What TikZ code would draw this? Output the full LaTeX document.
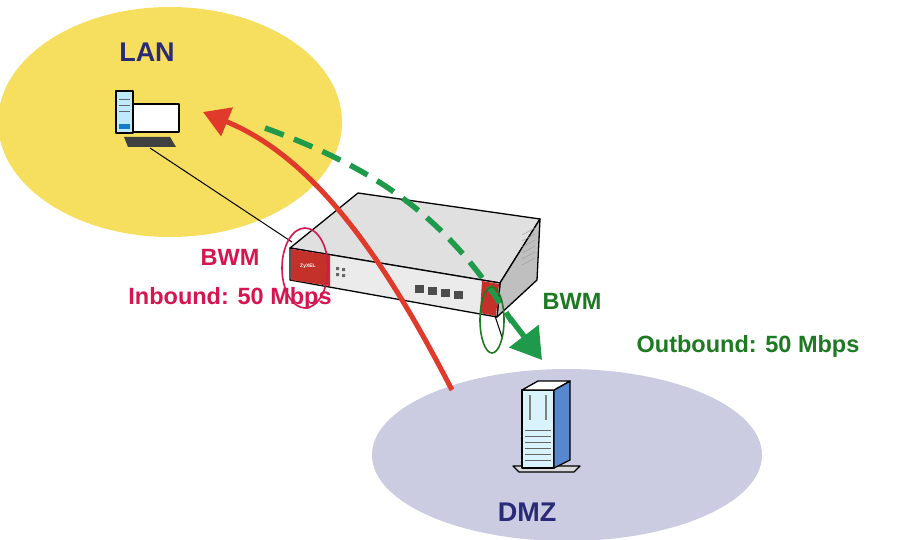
\documentclass[tikz,border=0pt]{standalone}
\usepackage{fontspec}
\setmainfont{Liberation Sans}
\usetikzlibrary{arrows.meta}
\definecolor{lanY}{HTML}{F6DE5E}
\definecolor{dmzB}{HTML}{CBCBE2}
\definecolor{navy}{HTML}{2A2A78}
\definecolor{bwmR}{HTML}{D6164E}
\definecolor{bwmG}{HTML}{1E7A22}
\definecolor{arcR}{HTML}{E03A2A}
\definecolor{dashG}{HTML}{1E9A4A}
\definecolor{rtrR}{HTML}{C4302A}
\begin{document}
\begin{tikzpicture}[x=1pt,y=-1pt,
  zone/.style={font=\bfseries\fontsize{27}{30}\selectfont,text=navy},
  lbl/.style={font=\bfseries\fontsize{23.5}{26}\selectfont},
  edge/.style={line width=1.3pt,line join=round}]
\useasboundingbox (0,0) rectangle (901,540);
\fill[white] (0,0) rectangle (901,540);
% zones
\fill[lanY] (170,122) ellipse [x radius=172,y radius=115];
\fill[dmzB] (567,455) ellipse [x radius=195,y radius=86];
\node[zone] (lan) at (147,52) {LAN};
\node[zone] (dmz) at (527,512) {DMZ};
% PC
\coordinate (pcport) at (150,148);
\coordinate (rtrin) at (292,242);
\draw[black,line width=1pt] (pcport) -- (rtrin);
\fill[black!75] (124,137) -- (170,137) -- (176,147) -- (128,147) -- cycle;
\draw[edge,fill=cyan!25!white] (116,91) rectangle (133,133);
\draw[edge,fill=white] (133,104) rectangle (179,132);
\draw[black!60] (119,99) -- (130,99) (119,105) -- (130,105) (119,111) -- (130,111);
\fill[cyan!60!blue] (119,124) rectangle (130,129);
\node[inner sep=0] (pc) at (147,115) {};
% router
\draw[edge,fill=black!12] (290,248) -- (358,193) -- (540,219) -- (500,283) -- cycle;
\draw[edge,fill=black!25] (500,283) -- (540,219) -- (537,280) -- (497,317) -- cycle;
\draw[edge,fill=black!8] (290,248) -- (500,283) -- (497,317) -- (290,280) -- cycle;
\fill[rtrR] (291,249) -- (330,255) -- (330,286) -- (291,280) -- cycle;
\fill[rtrR] (482,281) -- (499,284) -- (496,316) -- (480,313) -- cycle;
\node[text=white,font=\bfseries\tiny] at (308,266) {ZyXEL};
\foreach \i in {0,...,3}{\fill[black!70] (415+\i*13,285+\i*2) rectangle (424+\i*13,293+\i*2);}
\foreach \i in {0,...,5}{\draw[black!40] (522,235+\i*6) -- (535,228+\i*6);}
\fill[black!60] (336,267) rectangle (339,270) (342,268) rectangle (345,271) (336,273) rectangle (339,276) (342,274) rectangle (345,277);
\node[inner sep=0] (router) at (420,255) {};
\coordinate (rtrout) at (495,316);
\coordinate (srvport) at (502,337);
\draw[black,line width=1pt] (rtrout) -- (srvport);
% server
\draw[edge,fill=black!15] (519,472) -- (574,472) -- (580,466) -- (513,466) -- cycle;
\draw[edge,fill=cyan!15!white] (522,390) rectangle (554,468);
\draw[edge,fill=cyan!45!blue!70!white] (554,390) -- (570,381) -- (570,460) -- (554,468) -- cycle;
\draw[edge,fill=white] (522,390) -- (538,381) -- (570,381) -- (554,390) -- cycle;
\foreach \i in {0,...,5}{\draw[black!60] (525,430+\i*6) -- (551,430+\i*6);}
\draw[black!50,line width=1.5pt] (530,395) -- (530,420) (546,395) -- (546,420);
\node[inner sep=0] (srv) at (546,425) {};
% flows
\coordinate (inStart) at (452,390);
\coordinate (inEnd) at (203,112);
\draw[arcR,line width=5pt,-{Triangle[length=26pt,width=30pt]}] (inStart) .. controls (390,270) and (320,160) .. (inEnd);
\coordinate (outStart) at (265,128);
\coordinate (outEnd) at (542,360);
\draw[dashG,line width=5.5pt,dash pattern=on 20pt off 11pt] (outStart) .. controls (380,170) and (450,220) .. (512,322);
\draw[dashG,line width=5.5pt,-{Triangle[length=30pt,width=36pt]}] (510,318) -- (outEnd);
% BWM markers
\draw[bwmR,line width=1.6pt] (305,268) ellipse [x radius=23,y radius=40];
\draw[bwmG,line width=1.6pt] (492,320) ellipse [x radius=12,y radius=33];
% labels
\node[lbl,text=bwmR] (bwmIn) at (230,257) {BWM};
\node[lbl,text=bwmR] (inb) at (230,298) {Inbound: 50 Mbps};
\node[lbl,text=bwmG] (bwmOut) at (572,301) {BWM};
\node[lbl,text=bwmG] (outb) at (748,346) {Outbound: 50 Mbps};
\end{tikzpicture}
\end{document}
